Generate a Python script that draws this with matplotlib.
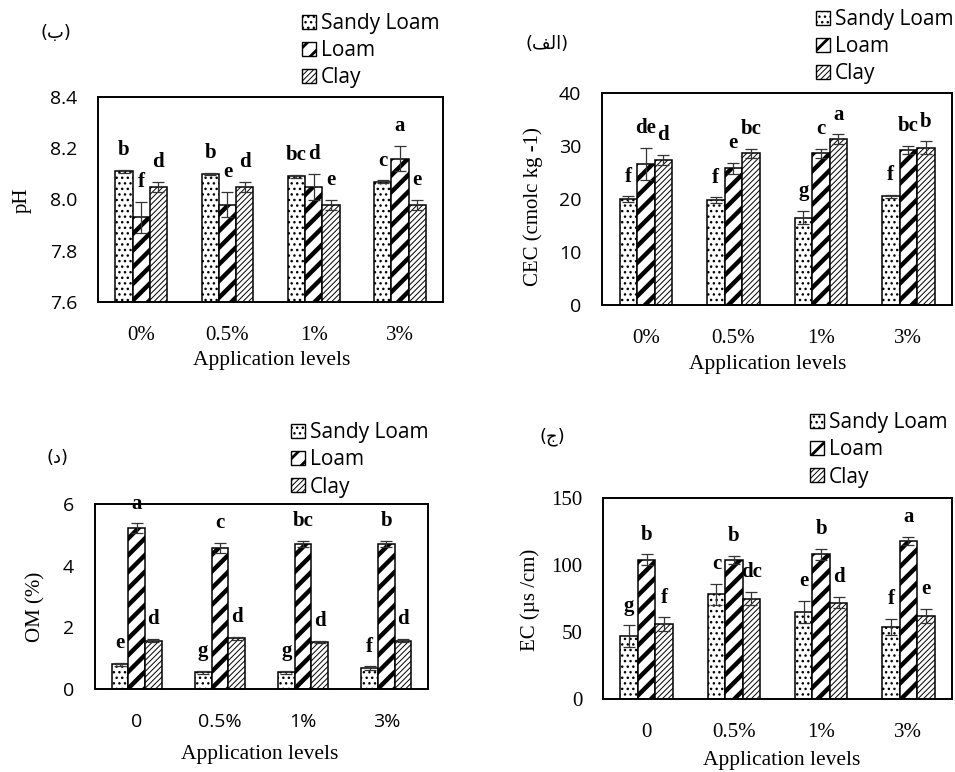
import matplotlib
matplotlib.use('Agg')
import matplotlib.pyplot as plt
from matplotlib.patches import Patch
import numpy as np

W, H = 955, 772

levels_pct = ['0%', '0.5%', '1%', '3%']
levels_om = ['0', '0.5%', '1%', '3%']
soils = ['Sandy Loam', 'Loam', 'Clay']

# pH
ph_vals = [[8.11, 8.10, 8.09, 8.07], [7.93, 7.98, 8.05, 8.16], [8.05, 8.05, 7.98, 7.98]]
ph_err = [[0.005, 0.005, 0.005, 0.005], [0.06, 0.05, 0.05, 0.05], [0.02, 0.02, 0.02, 0.02]]
ph_let = [['b', 'b', 'bc', 'c'], ['f', 'e', 'd', 'a'], ['d', 'd', 'e', 'e']]

# CEC
cec_vals = [[20.0, 19.8, 16.5, 20.5], [26.6, 25.8, 28.6, 29.2], [27.4, 28.6, 31.3, 29.7]]
cec_err = [[0.5, 0.5, 1.2, 0.3], [3.0, 1.0, 0.8, 0.8], [0.9, 0.9, 0.9, 1.2]]
cec_let = [['f', 'f', 'g', 'f'], ['de', 'e', 'c', 'bc'], ['d', 'bc', 'a', 'b']]

# OM
om_vals = [[0.80, 0.55, 0.55, 0.68], [5.22, 4.57, 4.70, 4.70], [1.57, 1.65, 1.52, 1.57]]
om_err = [[0.05, 0.05, 0.05, 0.05], [0.15, 0.17, 0.10, 0.10], [0.05, 0.05, 0.04, 0.05]]
om_let = [['e', 'g', 'g', 'f'], ['a', 'c', 'bc', 'b'], ['d', 'd', 'd', 'd']]

# EC
ec_vals = [[47, 78, 65, 54], [104, 104, 108, 118], [56, 75, 72, 62]]
ec_err = [[8, 8, 8, 6], [4, 3, 4, 3], [5, 5, 4, 5]]
ec_let = [['g', 'c', 'e', 'f'], ['b', 'b', 'b', 'a'], ['f', 'dc', 'd', 'e']]

hatches = ['...', '//', '//////']
hatch_lw = [1.0, 3.2, 0.7]

SANS = 'Open Sans'
SERIF = 'Liberation Serif'

fig = plt.figure(figsize=(W / 100, H / 100), dpi=100)


def add_px_axes(l, t, r, b):
    return fig.add_axes([l / W, 1 - b / H, (r - l) / W, (b - t) / H])


def ftext(x, y, s, **kw):
    fig.text(x / W, 1 - y / H, s, **kw)


def panel(box, vals, errs, lets, cats, ylim, yticks, yfmt, ylabel, ylab_xy,
          xlab_xy, leg_xy, tag, tag_xy, yfont, xfont):
    ax = add_px_axes(*box)
    x = np.arange(len(cats))
    w = 0.2
    for i in range(3):
        xs = x + (i - 1) * w
        bars = ax.bar(xs, vals[i], w, color='white', edgecolor='black',
                      linewidth=1.1, hatch=hatches[i], zorder=2)
        for b in bars:
            if hasattr(b, 'set_hatch_linewidth'):
                b.set_hatch_linewidth(hatch_lw[i])
        ax.errorbar(xs, vals[i], yerr=errs[i], fmt='none', ecolor='#333333',
                    elinewidth=0.9, capsize=4, capthick=0.9, zorder=3)
        for xi, v, e, s in zip(xs, vals[i], errs[i], lets[i]):
            ax.annotate(s, (xi, v + e), xytext=(0, 7), textcoords='offset points',
                        ha='center', va='bottom', fontsize=15, fontweight='bold',
                        family=SERIF, zorder=4)
    ax.set_xlim(-0.5, len(cats) - 0.5)
    ax.set_ylim(*ylim)
    ax.set_yticks(yticks)
    ax.set_yticklabels([yfmt.format(t) for t in yticks], family=yfont[0], fontsize=yfont[1])
    ax.set_xticks(x)
    ax.set_xticklabels(cats, family=xfont[0], fontsize=xfont[1])
    ax.tick_params(length=0)
    ax.tick_params(axis='y', pad=15)
    ax.tick_params(axis='x', pad=17)
    for sp in ax.spines.values():
        sp.set_linewidth(1.4)
    ftext(*ylab_xy, ylabel, rotation=90, ha='center', va='center',
          family=SERIF, fontsize=15)
    ftext(*xlab_xy, 'Application levels', ha='center', va='center',
          family=SERIF, fontsize=15.5)
    ftext(*tag_xy, tag, ha='center', va='center', family=['DejaVu Sans'], fontsize=13)
    handles = [Patch(facecolor='white', edgecolor='black', hatch=h, linewidth=1.0)
               for h in hatches]
    leg = ax.legend(handles, soils, loc='upper left',
                    bbox_to_anchor=(leg_xy[0] / W, 1 - leg_xy[1] / H),
                    bbox_transform=fig.transFigure, frameon=False,
                    prop={'family': SANS, 'size': 15}, handlelength=0.65,
                    handleheight=0.65, handletextpad=0.25, labelspacing=0.3,
                    borderpad=0, borderaxespad=0)
    for p, lw in zip(leg.get_patches(), hatch_lw):
        if hasattr(p, 'set_hatch_linewidth'):
            p.set_hatch_linewidth(min(lw, 2.0))
    return ax


sans_t = (SANS, 14)
serif_t = (SERIF, 15)

panel((98, 97, 443, 302), ph_vals, ph_err, ph_let, levels_pct, (7.6, 8.4),
      [7.6, 7.8, 8.0, 8.2, 8.4], '{:.1f}', 'pH', (22, 200), (272, 360),
      (302, 13), '(\u0628)', (56, 33), sans_t, serif_t)

panel((602, 93, 952, 305), cec_vals, cec_err, cec_let, levels_pct, (0, 40),
      [0, 10, 20, 30, 40], '{:.0f}', 'CEC (cmolc kg -1)', (533, 207), (768, 365),
      (816, 9), '(\ufed2\ufedf\ufe8d)', (547, 44), sans_t, serif_t)

panel((95, 504, 428, 689), om_vals, om_err, om_let, levels_om, (0, 6),
      [0, 2, 4, 6], '{:.0f}', 'OM (%)', (36, 607), (260, 755),
      (291, 422), '(\u062f)', (57, 458), sans_t, sans_t)

panel((603, 498, 952, 699), ec_vals, ec_err, ec_let, levels_om, (0, 150),
      [0, 50, 100, 150], '{:.0f}', 'EC (\u00b5s /cm)', (530, 600), (782, 760),
      (810, 412), '(\u062c)', (552, 437), serif_t, serif_t)

fig.savefig('out.png', dpi=100)
